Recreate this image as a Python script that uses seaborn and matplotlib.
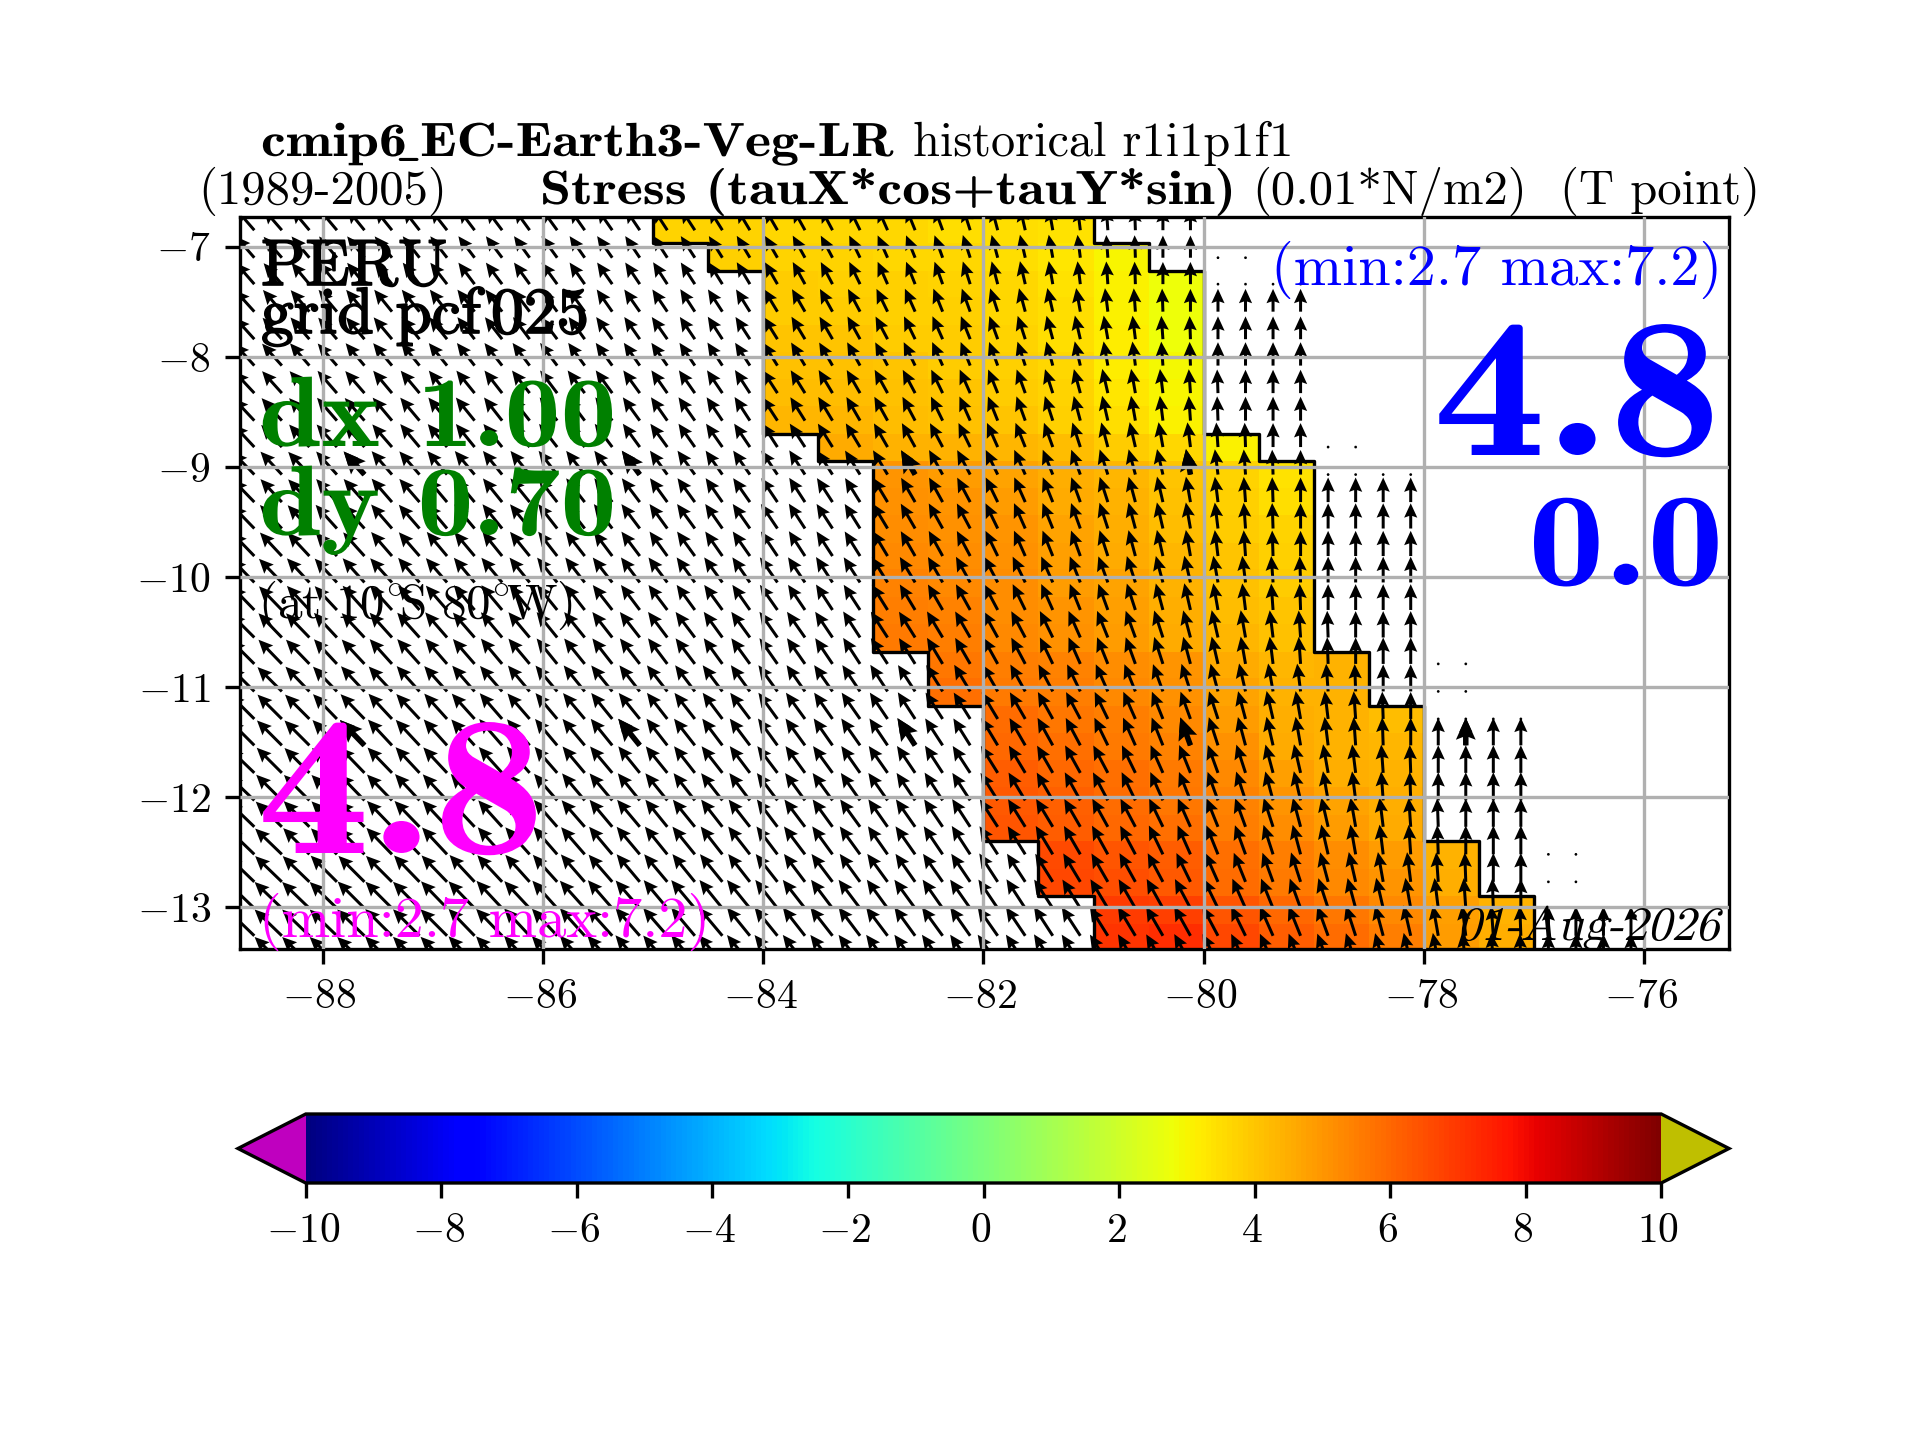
import numpy as np
import matplotlib
matplotlib.use("Agg")
import matplotlib.pyplot as plt
from matplotlib.patheffects import AbstractPathEffect, withStroke
from matplotlib.transforms import Affine2D, ScaledTranslation
import seaborn as sns

# colour cells: lon/lat edges, first column of each row, 8 values per row
lon_edges = [-85, -84.5, -84, -83.5, -83, -82.5, -82, -81.5, -81, -80.5, -80, -79.5, -79, -78.5, -78, -77.5, -77]
lat_edges = [-6.72, -6.97, -7.22, -7.46, -7.71, -7.96, -8.20, -8.45, -8.70, -8.95, -9.19, -9.44, -9.69, -9.93,
             -10.18, -10.43, -10.68, -10.92, -11.17, -11.42, -11.66, -11.91, -12.16, -12.40, -12.65, -12.90,
             -13.15, -13.39]
first_col = [0, 1, 2, 2, 2, 2, 2, 2, 3, 4, 4, 4, 4, 4, 4, 4, 5, 5, 6, 6, 6, 6, 6, 7, 7, 8, 8]
stress_rows = [
    [3.7, 3.7, 3.6, 3.6, 3.6, 3.5, 3.5, 3.4],
    [3.8, 3.7, 3.7, 3.6, 3.6, 3.5, 3.3, 3.0],
    [3.9, 3.8, 3.8, 3.7, 3.6, 3.4, 3.1, 2.8],
    [3.9, 3.9, 3.8, 3.8, 3.6, 3.5, 3.1, 2.8],
    [4.0, 4.0, 3.9, 3.9, 3.7, 3.5, 3.2, 2.8],
    [4.1, 4.1, 4.0, 3.9, 3.8, 3.6, 3.2, 2.9],
    [4.2, 4.2, 4.1, 4.0, 3.9, 3.7, 3.3, 3.0],
    [4.3, 4.3, 4.2, 4.1, 4.0, 3.8, 3.5, 3.1],
    [4.6, 4.4, 4.4, 4.3, 4.2, 3.9, 3.6, 3.1],
    [5.0, 4.9, 4.7, 4.5, 4.3, 4.0, 3.7, 3.4],
    [5.1, 5.0, 4.9, 4.6, 4.4, 4.1, 3.8, 3.5],
    [5.2, 5.1, 5.0, 4.7, 4.5, 4.2, 3.9, 3.7],
    [5.3, 5.2, 5.1, 4.8, 4.6, 4.3, 4.0, 3.8],
    [5.4, 5.3, 5.2, 4.9, 4.7, 4.4, 4.1, 3.9],
    [5.5, 5.4, 5.2, 5.0, 4.8, 4.5, 4.2, 4.0],
    [5.6, 5.5, 5.3, 5.1, 4.9, 4.6, 4.3, 4.1],
    [5.7, 5.5, 5.4, 5.2, 5.0, 4.6, 4.3, 4.4],
    [5.8, 5.6, 5.5, 5.3, 5.1, 4.7, 4.4, 4.4],
    [5.9, 5.7, 5.5, 5.3, 4.9, 4.5, 4.4, 4.2],
    [6.0, 5.8, 5.6, 5.4, 5.1, 4.6, 4.4, 4.3],
    [6.2, 6.0, 5.8, 5.6, 5.3, 4.8, 4.5, 4.4],
    [6.3, 6.1, 5.9, 5.7, 5.4, 5.0, 4.7, 4.5],
    [6.4, 6.2, 6.0, 5.8, 5.5, 5.2, 4.9, 4.6],
    [6.6, 6.4, 6.2, 5.8, 5.5, 5.2, 4.9, 4.4],
    [6.7, 6.5, 6.3, 5.9, 5.6, 5.3, 5.0, 4.5],
    [6.9, 6.8, 6.4, 6.0, 5.7, 5.3, 4.8, 4.4],
    [7.1, 7.2, 6.7, 6.2, 5.9, 5.5, 4.9, 4.5],
]

# arrow grid: 51 columns, 28 rows (tails)
arrow_lons = [-88.62, -88.37, -88.12, -87.87, -87.62, -87.37, -87.12, -86.87, -86.62, -86.37, -86.12, -85.87,
              -85.62, -85.37, -85.12, -84.87, -84.62, -84.37, -84.12, -83.87, -83.62, -83.37, -83.12, -82.87,
              -82.62, -82.37, -82.12, -81.87, -81.62, -81.37, -81.12, -80.87, -80.62, -80.37, -80.12, -79.87,
              -79.62, -79.37, -79.12, -78.87, -78.62, -78.37, -78.12, -77.87, -77.62, -77.37, -77.12, -76.87,
              -76.62, -76.37, -76.12]
arrow_lats = [-6.85, -7.10, -7.34, -7.59, -7.84, -8.08, -8.33, -8.58, -8.82, -9.07, -9.32, -9.56, -9.81, -10.05,
              -10.30, -10.55, -10.79, -11.04, -11.29, -11.53, -11.78, -12.03, -12.27, -12.52, -12.77, -13.01,
              -13.26, -13.51]
last_arrow_col = [34, 34, 34, 38, 38, 38, 38, 38, 38, 38, 42, 42, 42, 42, 42, 42, 42, 42, 42, 46, 46, 46, 46, 46,
                  46, 46, 50, 50]
last_dot_col = [34, 36, 38, 38, 38, 38, 38, 38, 40, 42, 42, 42, 42, 42, 42, 42, 44, 44, 46, 46, 46, 46, 46, 48,
                48, 50, 50, 50]
coast_col = [33, 33, 33, 34, 35, 35, 36, 36, 37, 38, 38, 38, 38, 39, 39, 40, 40, 41, 42, 42, 43, 43, 44, 44, 45,
             46, 47, 47]
tilt_by_offset = [0, 2, 4, 7, 10, 13, 15, 18, 20, 22, 24, 26, 28, 29, 30, 31, 32, 33, 33, 34, 35, 35, 36, 36, 37,
                  37, 38, 38, 39, 39, 40, 40, 41, 41, 42, 42, 43, 43, 44, 44, 45, 45, 45, 46, 46, 46, 46, 46, 46,
                  46, 46, 46]
speed_by_row = [3.7, 3.7, 3.7, 3.8, 3.8, 3.9, 3.9, 4.0, 4.0, 4.1, 4.1, 4.2, 4.2, 4.3, 4.3, 4.4, 4.4, 4.5, 4.5,
                4.6, 4.6, 4.7, 4.7, 4.8, 4.8, 4.9, 4.9, 4.9]
speed_factor = [0.80, 0.81, 0.82, 0.83, 0.84, 0.85, 0.85, 0.86, 0.86, 0.87, 0.88, 0.89, 0.90, 0.91, 0.91, 0.92,
                0.92, 0.93, 0.94, 0.94, 0.95, 0.95, 0.96, 0.96, 0.97, 0.97, 0.98, 0.98, 0.99, 0.99, 1.0, 1.0,
                1.0, 1.01, 1.01, 1.01, 1.01, 1.02, 1.02, 1.02, 1.02, 1.02, 1.03, 1.03, 1.03, 1.03, 1.03, 1.03,
                1.03, 1.03, 1.03, 1.03]
big_rows = [9, 19]
big_cols = [4, 14, 24, 34, 44]

x_ticks = [-88, -86, -84, -82, -80, -78, -76]
x_labels = ["$-88$", "$-86$", "$-84$", "$-82$", "$-80$", "$-78$", "$-76$"]
y_ticks = [-7, -8, -9, -10, -11, -12, -13]
y_labels = ["$-7$", "$-8$", "$-9$", "$-10$", "$-11$", "$-12$", "$-13$"]
cbar_ticks = [-10, -8, -6, -4, -2, 0, 2, 4, 6, 8, 10]
cbar_labels = ["$-10$", "$-8$", "$-6$", "$-4$", "$-2$", "$0$", "$2$", "$4$", "$6$", "$8$", "$10$"]

sns.set_style("ticks", rc={
    "axes.edgecolor": "black", "text.color": "black", "xtick.color": "black", "ytick.color": "black",
    "axes.labelcolor": "black", "xtick.direction": "out", "ytick.direction": "out",
})
plt.rcParams["font.family"] = ["cmr10", "DejaVu Sans"]
plt.rcParams["mathtext.fontset"] = "cm"
plt.rcParams["axes.formatter.use_mathtext"] = True
plt.rcParams["axes.unicode_minus"] = False
plt.rcParams["axes.linewidth"] = 0.8

fig = plt.figure(figsize=(6.4, 4.8), dpi=300)
ax = fig.add_axes([240 / 1920, 1 - 949 / 1440, 1489 / 1920, 732 / 1440])

cmap = plt.get_cmap("jet").copy()
cmap.set_under("#bf00bf")
cmap.set_over("#bfbf00")

stress = np.full((len(first_col), len(lon_edges) - 1), np.nan)
for row, (start, vals) in enumerate(zip(first_col, stress_rows)):
    stress[row, start:start + len(vals)] = vals
mesh = ax.pcolormesh(lon_edges, lat_edges, np.ma.masked_invalid(stress), cmap=cmap, vmin=-10, vmax=10)

# staircase outline of the coloured part
for side in (0, 1):
    xs, ys = [], []
    for row, start in enumerate(first_col):
        col = start if side == 0 else start + 8
        xs += [lon_edges[col], lon_edges[col]]
        ys += [lat_edges[row], lat_edges[row + 1]]
    ax.plot(xs, ys, color="black", lw=0.8, zorder=2)

# arrows
qx, qy, qu, qv = [], [], [], []
bx, by, bu, bv = [], [], [], []
for k, lat in enumerate(arrow_lats):
    for i, lon in enumerate(arrow_lons):
        if i <= last_arrow_col[k]:
            off = max(coast_col[k] - i, 0)
            tilt = np.radians(tilt_by_offset[off])
            speed = speed_by_row[k] * speed_factor[off]
            uu, vv = -speed * np.sin(tilt), speed * np.cos(tilt)
            qx.append(lon); qy.append(lat); qu.append(uu); qv.append(vv)
            if k in big_rows and i in big_cols:
                bx.append(lon); by.append(lat); bu.append(uu); bv.append(vv)
        elif i <= last_dot_col[k]:
            qx.append(lon); qy.append(lat); qu.append(0.0); qv.append(0.0)

arrow_style = dict(angles="uv", scale_units="dots", scale=1 / 7.5, units="dots", color="black", zorder=1.5)
ax.quiver(qx, qy, qu, qv, width=3, headwidth=4.4, headlength=4.8, headaxislength=4.2, **arrow_style)
ax.quiver(bx, by, bu, bv, width=5.5, headwidth=3.6, headlength=4, headaxislength=3.5, **arrow_style)

ax.set_xlim(-88.75, -75.23)
ax.set_ylim(-13.38, -6.73)
ax.set_xticks(x_ticks)
ax.set_xticklabels(x_labels, fontsize=10)
ax.set_yticks(y_ticks)
ax.set_yticklabels(y_labels, fontsize=10)
ax.grid(True, color="#b0b0b0", lw=0.8)
ax.set_axisbelow(False)
ax.tick_params(length=3.5, width=0.8)

cax = fig.add_axes([238 / 1920, 1 - 1183 / 1440, 1491 / 1920, 69 / 1440])
cbar = fig.colorbar(mesh, cax=cax, orientation="horizontal", extend="both", ticks=cbar_ticks)
cbar.set_ticklabels(cbar_labels, fontsize=10)
cbar.ax.tick_params(length=3.5, width=0.8)

# mathtext minus labels sit a little right of the original ones
nudge = ScaledTranslation(-3 / 300, 0, fig.dpi_scale_trans)
for lab in ax.get_xticklabels() + cbar.ax.get_xticklabels():
    lab.set_transform(lab.get_transform() + nudge)


class Reshape(AbstractPathEffect):
    # cmb10 is narrower than the bold of the original and there is no italic cm face here
    def __init__(self, sx=1.0, skew=0.0):
        super().__init__()
        self.sx, self.skew = sx, skew

    def draw_path(self, renderer, gc, tpath, affine, rgbFace=None):
        shape = Affine2D().scale(self.sx, 1).skew_deg(self.skew, 0)
        renderer.draw_path(gc, tpath, shape + affine, rgbFace)


def put(x, y, s, size, color="black", family="cmr10", ha="left", sx=1.0, skew=0.0):
    t = fig.text(x / 1920, 1 - y / 1440, s, fontsize=size, color=color, family=family, ha=ha, va="baseline", zorder=5)
    if sx != 1.0 or skew != 0.0:
        t.set_path_effects([Reshape(sx, skew)])
    return t


# title lines
put(261, 156, "cmip6", 11.5, family="cmb10", sx=1.167)
put(395, 156, r"$\mathbf{\_}$", 11.5)
put(420, 156, "EC-Earth3-Veg-LR", 11.5, family="cmb10", sx=1.167)
put(913, 156, "historical r1i1p1f1", 11.6)
put(198, 204, "(1989-2005)", 11.7)
put(540, 204, "Stress (tauX*cos+tauY*sin)", 11.5, family="cmb10", sx=1.167)
put(1252, 204, "(0.01*N/m2)", 11.7)
put(1560, 204, "(T point)", 11.7)

# texts inside the map
heavy = [withStroke(linewidth=0.4, foreground="black")]
put(261, 285, "PERU", 15.7).set_path_effects(heavy)
put(261, 333, "grid pcf", 15.7).set_path_effects(heavy)
put(491, 333, "025", 15.7).set_path_effects(heavy)
put(259, 446, "dx 1.00", 24, color="green", family="cmb10", sx=1.12)
put(259, 535, "dy 0.70", 24, color="green", family="cmb10", sx=1.12)
put(258, 618, r"$\mathrm{(at\ 10^{\circ}\!S\ 80^{\circ}\!W)}$", 11.8)
put(257, 853, "4.8", 48, color="magenta", family="cmb10", sx=1.13)
put(259, 937, "(min:2.7 max:7.2)", 14, color="magenta")
put(1722, 285, "(min:2.7 max:7.2)", 14, color="blue", ha="right")
put(1433, 455, "4.8", 48, color="blue", family="cmb10", sx=1.13)
put(1528, 585, "0.0", 32, color="blue", family="cmb10", sx=1.15)
put(1457, 940, "01-Aug-2026", 11.5, skew=14)

fig.savefig("out.png", dpi=300)
